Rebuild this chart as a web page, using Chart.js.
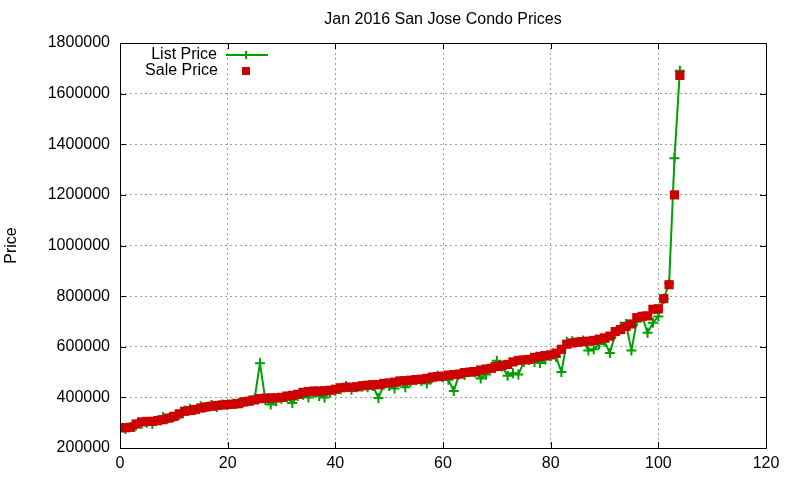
<!DOCTYPE html>
<html>
<head>
<meta charset="utf-8">
<script src="https://cdn.jsdelivr.net/npm/chart.js@4.4.1/dist/chart.umd.min.js"></script>
<style>
  html, body { margin: 0; padding: 0; background: #fff; }
  #wrap { width: 800px; height: 480px; }
</style>
</head>
<body>
<div id="wrap"><canvas id="chart" width="800" height="480"></canvas></div>
<script>
// values, index 0..104 = condo rank
const salePrice = [
  280000, 280000, 282000, 295000, 303000, 305000, 305000, 308000, 312000, 318000,
  325000, 335000, 345000, 348000, 352000, 358000, 362000, 365000, 368000, 370000,
  372000, 373000, 375000, 382000, 385000, 390000, 395000, 397000, 398000, 398000,
  400000, 405000, 408000, 412000, 420000, 423000, 425000, 425000, 426000, 428000,
  432000, 438000, 440000, 440000, 442000, 446000, 448000, 450000, 450000, 455000,
  457000, 460000, 465000, 466000, 468000, 470000, 472000, 475000, 480000, 482000,
  484000, 488000, 490000, 492000, 498000, 500000, 502000, 508000, 512000, 515000,
  522000, 526000, 530000, 540000, 546000, 548000, 550000, 558000, 562000, 565000,
  568000, 575000, 590000, 610000, 615000, 618000, 620000, 622000, 625000, 630000,
  635000, 642000, 660000, 668000, 680000, 690000, 715000, 720000, 722000, 748000,
  750000, 790000, 845000, 1200000, 1672000
];
const listPrice = [
  290000, 275000, 283000, 290000, 295000, 300000, 295000, 310000, 322000, 318000,
  322000, 330000, 348000, 355000, 350000, 365000, 362000, 370000, 362000, 372000,
  370000, 375000, 378000, 382000, 388000, 395000, 535000, 390000, 372000, 385000,
  395000, 400000, 378000, 405000, 410000, 400000, 418000, 405000, 400000, 420000,
  425000, 432000, 445000, 430000, 440000, 442000, 440000, 445000, 398000, 450000,
  445000, 435000, 462000, 440000, 462000, 468000, 465000, 455000, 478000, 485000,
  480000, 470000, 425000, 490000, 488000, 500000, 498000, 475000, 490000, 520000,
  545000, 522000, 485000, 495000, 490000, 540000, 548000, 540000, 536000, 550000,
  562000, 560000, 500000, 620000, 622000, 620000, 625000, 585000, 590000, 610000,
  620000, 575000, 650000, 680000, 690000, 585000, 700000, 720000, 655000, 695000,
  720000, 790000, 850000, 1345000, 1690000
];
const xTicks = [0, 20, 40, 60, 80, 100, 120];
const yTicks = [200000, 400000, 600000, 800000, 1000000, 1200000, 1400000, 1600000, 1800000];

const GREEN = "rgb(0,160,0)";
const RED = "rgb(204,0,0)";
const FONT = "Liberation Sans, Arial, sans-serif";

// gnuplot-ish frame: border, inward ticks on all sides, title and key
const gnuplotFrame = {
  id: "gnuplotFrame",
  afterDraw(chart) {
    const { ctx, chartArea: a, scales } = chart;
    ctx.save();
    ctx.strokeStyle = "#000";
    ctx.lineWidth = 1;
    ctx.strokeRect(a.left + 0.5, a.top + 0.5, a.right - a.left, a.bottom - a.top);
    ctx.beginPath();
    xTicks.forEach((v) => {
      const x = Math.round(scales.x.getPixelForValue(v)) + 0.5;
      ctx.moveTo(x, a.bottom); ctx.lineTo(x, a.bottom - 6);
      ctx.moveTo(x, a.top); ctx.lineTo(x, a.top + 6);
    });
    yTicks.forEach((v) => {
      const y = Math.round(scales.y.getPixelForValue(v)) + 0.5;
      ctx.moveTo(a.left, y); ctx.lineTo(a.left + 6, y);
      ctx.moveTo(a.right, y); ctx.lineTo(a.right - 6, y);
    });
    ctx.stroke();

    ctx.fillStyle = "#000";
    ctx.font = "16px " + FONT;
    ctx.textBaseline = "middle";
    ctx.textAlign = "center";
    ctx.fillText("Jan 2016 San Jose Condo Prices", (a.left + a.right) / 2, 20);

    // key
    ctx.textAlign = "right";
    ctx.fillText("List Price", 217, 55);
    ctx.fillText("Sale Price", 218, 71);
    ctx.strokeStyle = GREEN;
    ctx.lineWidth = 2;
    ctx.beginPath();
    ctx.moveTo(226, 55); ctx.lineTo(268, 55);
    ctx.moveTo(246, 51); ctx.lineTo(246, 59);
    ctx.stroke();
    ctx.fillStyle = RED;
    ctx.fillRect(242, 67, 8, 8);
    ctx.restore();
  }
};

new Chart(document.getElementById("chart"), {
  type: "line",
  data: {
    datasets: [
      {
        label: "List Price",
        data: listPrice.map((v, i) => ({ x: i, y: v })),
        borderColor: GREEN,
        backgroundColor: GREEN,
        borderWidth: 2,
        pointStyle: "cross",
        pointRadius: 5,
        pointBorderWidth: 2,
        tension: 0,
        order: 1,
      },
      {
        label: "Sale Price",
        data: salePrice.map((v, i) => ({ x: i, y: v })),
        showLine: false,
        borderColor: RED,
        backgroundColor: RED,
        pointStyle: "rect",
        pointRadius: 6.5,
        pointBorderWidth: 0,
        order: 0,
      },
    ],
  },
  options: {
    responsive: false,
    animation: false,
    devicePixelRatio: 1,
    layout: { padding: { top: 43, right: 34, left: 0, bottom: 0 } },
    plugins: { legend: { display: false }, tooltip: { enabled: false }, title: { display: false } },
    scales: {
      x: {
        type: "linear",
        min: 0,
        max: 120,
        afterFit: (s) => { s.height = 32; },
        afterBuildTicks: (s) => { s.ticks = xTicks.map((v) => ({ value: v })); },
        grid: { color: "#a0a0a0", drawTicks: false },
        border: { display: false, dash: [2, 3] },
        ticks: { color: "#000", font: { family: FONT, size: 16 }, padding: 6, maxRotation: 0 },
      },
      y: {
        min: 200000,
        max: 1800000,
        afterFit: (s) => { s.width = 120; },
        afterBuildTicks: (s) => { s.ticks = yTicks.map((v) => ({ value: v })); },
        grid: { color: "#a0a0a0", drawTicks: false },
        border: { display: false, dash: [2, 3] },
        ticks: { color: "#000", font: { family: FONT, size: 16 }, padding: 10, callback: (v) => String(v) },
        title: { display: true, text: "Price", color: "#000", font: { family: FONT, size: 16 }, padding: { top: 2, bottom: 0 } },
      },
    },
  },
  plugins: [gnuplotFrame],
});
</script>
</body>
</html>
